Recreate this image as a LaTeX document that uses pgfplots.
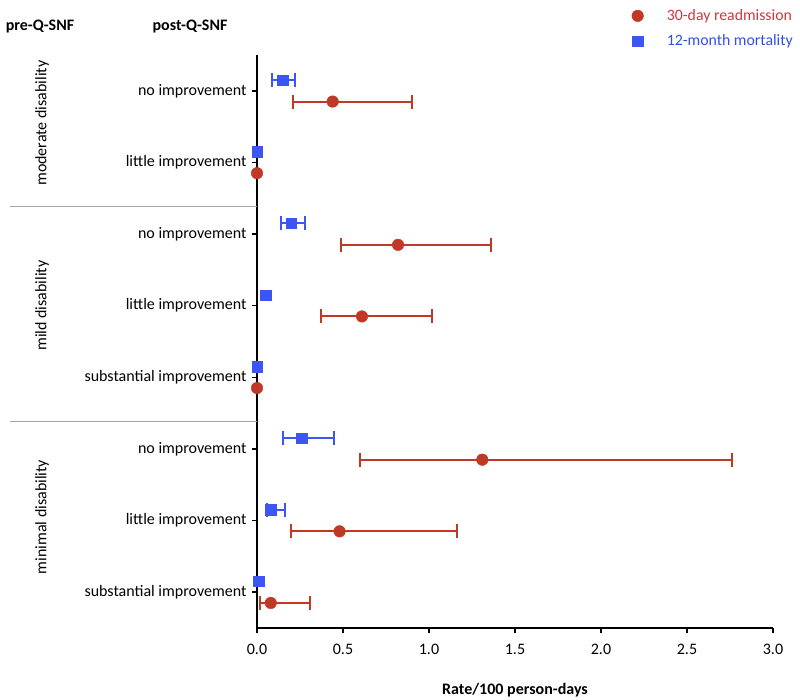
\documentclass[border=0pt]{standalone}
\usepackage{pgfplots}
\pgfplotsset{compat=1.18}
\usepackage{fontspec}
\setmainfont{Carlito}
\definecolor{redm}{RGB}{192,57,38}
\definecolor{bluem}{RGB}{59,86,245}
\definecolor{redt}{RGB}{210,52,62}
\definecolor{bluet}{RGB}{48,80,232}
\begin{document}
\fontsize{16bp}{19bp}\selectfont
\begin{tikzpicture}
\useasboundingbox (0,0) rectangle (800bp,700bp);
\node[font=\bfseries] at (40bp,673bp) {pre-Q-SNF};
\node[font=\bfseries] at (190bp,673bp) {post-Q-SNF};
\begin{axis}[
  at={(257bp,72bp)}, anchor=south west,
  scale only axis, width=516bp, height=573bp,
  xmin=0, xmax=3, ymin=0.5, ymax=8.5, y dir=reverse,
  axis x line=bottom, axis y line=left,
  axis line style={-, line width=1.6bp, black},
  tick align=outside, major tick length=5bp,
  tick style={line width=1.6bp, black},
  xtick={0,0.5,1,1.5,2,2.5,3},
  ytick={1,2,3,4,5,6,7,8},
  yticklabels={no improvement, little improvement, no improvement, little improvement, substantial improvement, no improvement, little improvement, substantial improvement},
  xticklabel style={yshift=-6bp},
  /pgf/number format/fixed, /pgf/number format/fixed zerofill,
  /pgf/number format/precision=1, /pgf/number format/assume math mode=true,
  clip=false,
  xlabel={\bfseries Rate/100 person-days},
  every axis x label/.style={at={(axis description cs:0.5,0)}, anchor=center, yshift=-62bp},
  legend style={at={(1,1)}, anchor=north east, xshift=25bp, yshift=50bp, draw=none, fill=none,
    row sep=8bp, font=\fontsize{15.8bp}{18bp}\selectfont},
  legend cell align=left,
  legend image code/.code={\draw[#1] plot coordinates {(0bp,0bp)}; \path (-8bp,0bp) (27bp,0bp);},
]
\addplot[only marks, mark=*, mark size=5.8bp, color=redm, mark options={fill=redm, draw=redm},
  error bars/.cd, x dir=both, x explicit,
  error bar style={line width=2bp, redm},
  error mark options={rotate=90, mark size=7bp, line width=2bp, redm}]
  coordinates {
  (0.44,1.15) += (0.46,0) -= (0.23,0)
  (0.82,3.15) += (0.54,0) -= (0.33,0)
  (0.61,4.15) += (0.41,0) -= (0.24,0)
  (1.31,6.15) += (1.45,0) -= (0.71,0)
  (0.48,7.15) += (0.68,0) -= (0.28,0)
  (0.08,8.15) += (0.23,0) -= (0.063,0)
  };
\addlegendentry{\textcolor{redt}{30-day readmission}}
\addplot[only marks, mark=square*, mark size=5.2bp, color=bluem, mark options={fill=bluem, draw=bluem},
  error bars/.cd, x dir=both, x explicit,
  error bar style={line width=2bp, bluem},
  error mark options={rotate=90, mark size=7bp, line width=2bp, bluem}]
  coordinates {
  (0.15,0.85) += (0.07,0) -= (0.06,0)
  (0.20,2.85) += (0.08,0) -= (0.06,0)
  (0.26,5.85) += (0.19,0) -= (0.11,0)
  (0.08,6.85) += (0.08,0) -= (0.02,0)
  };
\addlegendentry{\textcolor{bluet}{12-month mortality}}
\addplot[only marks, mark=*, mark size=5.8bp, color=redm, mark options={fill=redm, draw=redm}, forget plot]
  coordinates {(0,2.15) (0,5.15)};
\addplot[only marks, mark=square*, mark size=5.2bp, color=bluem, mark options={fill=bluem, draw=bluem}, forget plot]
  coordinates {(0,1.85) (0.05,3.85) (0,4.85) (0.01,7.85)};
\draw[gray!70, line width=0.8bp] (axis cs:0,2.61) -- (axis cs:-1.436,2.61);
\draw[gray!70, line width=0.8bp] (axis cs:0,5.61) -- (axis cs:-1.436,5.61);
\node[rotate=90] at (axis cs:-1.25,1.45) {moderate disability};
\node[rotate=90] at (axis cs:-1.25,4) {mild disability};
\node[rotate=90] at (axis cs:-1.25,6.95) {minimal disability};
\end{axis}
\end{tikzpicture}
\end{document}
